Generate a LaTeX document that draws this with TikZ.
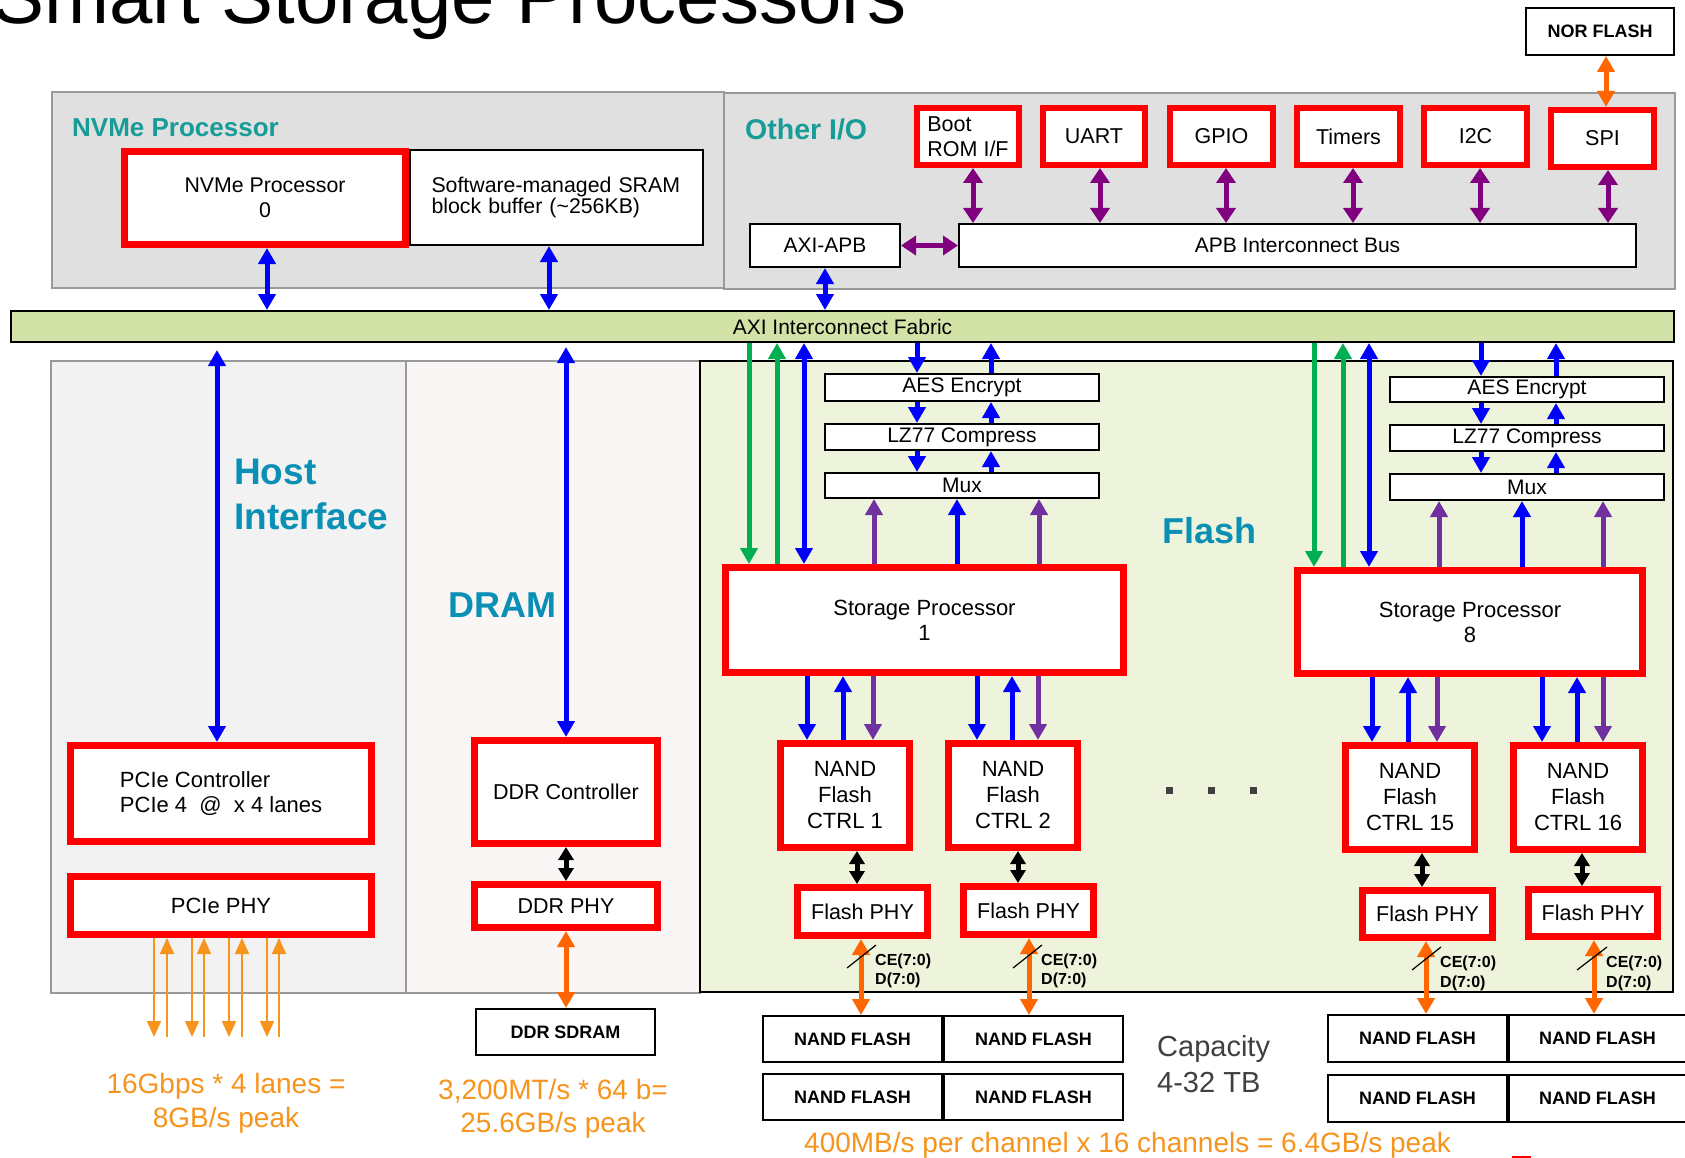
\documentclass[tikz,border=0pt]{standalone}
\usepackage{fontspec}
\setmainfont{Liberation Sans}
\usetikzlibrary{arrows.meta}
\definecolor{panelgray}{HTML}{E0E0E0}
\definecolor{hostgray}{HTML}{F2F2F2}
\definecolor{drampink}{HTML}{FBF6F6}
\definecolor{flashgreen}{HTML}{EEF3DC}
\definecolor{fabricgreen}{HTML}{D3E3A8}
\definecolor{panelborder}{HTML}{999999}
\definecolor{tealA}{HTML}{179C98}
\definecolor{tealB}{HTML}{0A90B4}
\definecolor{apbpurple}{HTML}{800080}
\definecolor{flashpurple}{HTML}{7030A0}
\definecolor{arrowgreen}{HTML}{00B050}
\definecolor{darkorange}{HTML}{FF6600}
\definecolor{lightorange}{HTML}{F7941D}
\definecolor{capgray}{HTML}{404040}
\newcommand\fsz[2]{\fontsize{#1pt}{#2pt}\selectfont}
% style, name, x1, y1, x2, y2, line width, text
\newcommand\bx[8]{\node[#1,minimum width={#5-#3-#7},minimum height={#6-#4-#7}] (#2) at ({(#3+#5)/2},{(#4+#6)/2}) {#8};}
% vertical connector: style, x, from anchor, to anchor
\newcommand\vc[4]{\draw[#1] (#2,0 |- #3) -- (#2,0 |- #4);}
\tikzset{
  redbox/.style={draw=red, line width=7pt, fill=white, inner sep=0pt, align=center, font=\fsz{21.5}{25}},
  blkbox/.style={draw=black, line width=2pt, fill=white, inner sep=0pt, align=center, font=\fsz{21}{25}},
  nandbox/.style={blkbox, font=\fsz{18}{22}\bfseries},
  bigtip/.style={line width=5pt, >={Triangle[width=17pt,length=16pt]}},
  barr/.style={bigtip, draw=blue},
  parr/.style={bigtip, draw=apbpurple, >={Triangle[width=19pt,length=15pt]}},
  farr/.style={bigtip, draw=flashpurple},
  garr/.style={bigtip, draw=arrowgreen},
  oarr/.style={bigtip, draw=darkorange},
  karr/.style={line width=5pt, draw=black, >={Triangle[width=15pt,length=13pt]}},
  lane/.style={line width=1.8pt, draw=lightorange, >={Triangle[width=14pt,length=16pt]}},
  toplbl/.style={font=\fsz{26}{30}\bfseries, text=tealA, inner sep=0pt},
  seclbl/.style={font=\fsz{36}{44}\bfseries, text=tealB, inner sep=0pt},
  orng/.style={font=\fsz{28}{32}, text=lightorange, inner sep=0pt},
  celbl/.style={font=\fsz{16}{19}\bfseries, inner sep=0pt},
  gtxt/.style={font=\fsz{29}{34}, text=capgray, inner sep=0pt},
  slash/.style={draw=black, line width=1.2pt},
}
\begin{document}
\begin{tikzpicture}[x=1pt,y=-1pt]
\useasboundingbox (0,0) rectangle (1685,1158);
\clip (0,0) rectangle (1685,1158);
\fill[white] (0,0) rectangle (1685,1158);

% ---------- title ----------
\node[anchor=base east, inner sep=0pt, font=\fsz{78}{90}] (title) at (907,24) {Smart Storage Processors};

% ---------- panels ----------
\draw[panelborder, fill=panelgray, line width=1.5pt] (52,92) rectangle (724,288);
\draw[panelborder, fill=panelgray, line width=1.5pt] (724,93) rectangle (1675,289);
\draw[panelborder, fill=hostgray, line width=1.5pt] (51,361) rectangle (406,993);
\draw[panelborder, fill=drampink, line width=1.5pt] (406,361) rectangle (700,993);
\draw[black, fill=flashgreen, line width=2pt] (700,361) rectangle (1673,992);

% ---------- labels ----------
\node[toplbl, anchor=base west] (nvmelbl) at (72,137) {NVMe Processor};
\node[toplbl, font=\fsz{28.5}{32}\bfseries, anchor=base west] (otherlbl) at (745,140) {Other I/O};
\node[seclbl, font=\fsz{37}{44}\bfseries, anchor=base west] (hostlblA) at (234,484) {Host};
\node[seclbl, font=\fsz{37}{44}\bfseries, anchor=base west] (hostlblB) at (234,529) {Interface};
\node[seclbl, anchor=base west] (dramlbl) at (448,617) {DRAM};
\node[seclbl, anchor=base west] (flashlbl) at (1162,543) {Flash};

% ---------- NVMe / other I/O ----------
\bx{blkbox,align=left,text width=250pt,font=\fsz{21.3}{19.5}}{sram}{409}{149}{704}{246}{2}{Software-managed SRAM\\block buffer (\textasciitilde256KB)}
\bx{redbox,font=\fsz{21.3}{25}}{nvme}{121}{148}{409}{248}{7}{NVMe Processor\\0}
\bx{blkbox}{axiapb}{749}{223}{901}{268}{2}{AXI-APB}
\bx{blkbox}{apb}{958}{223}{1637}{268}{2}{APB Interconnect Bus}
\bx{redbox,line width=6pt,align=left}{boot}{914}{105}{1022}{168}{6}{Boot\\ROM I/F}
\bx{redbox,line width=6pt}{uart}{1040}{105}{1148}{168}{6}{UART}
\bx{redbox,line width=6pt}{gpio}{1167}{105}{1276}{168}{6}{GPIO}
\bx{redbox,line width=6pt}{timers}{1294}{105}{1403}{168}{6}{Timers}
\bx{redbox,line width=6pt}{itwoc}{1421}{105}{1530}{168}{6}{I2C}
\bx{redbox,line width=6pt}{spi}{1548}{107}{1657}{170}{6}{SPI}
\bx{nandbox}{nor}{1525}{7}{1675}{56}{2}{NOR FLASH}
\bx{blkbox,fill=fabricgreen}{fabric}{10}{310}{1675}{343}{2}{AXI Interconnect Fabric}

% ---------- host / DRAM ----------
\bx{redbox,align=left,font=\fsz{22}{25}}{pcie}{67}{742}{375}{845}{7}{PCIe Controller\\PCIe 4\ \ @\ \ x 4 lanes}
\bx{redbox,font=\fsz{22}{25}}{pciephy}{67}{873}{375}{938}{7}{PCIe PHY}
\bx{redbox}{ddrctrl}{471}{737}{661}{847}{7}{DDR Controller}
\bx{redbox}{ddrphy}{471}{881}{661}{931}{7}{DDR PHY}
\bx{nandbox}{sdram}{475}{1008}{656}{1056}{2}{DDR SDRAM}
\coordinate (laneend) at (0,1037);

\node[orng, anchor=base] (hostrateA) at (226,1093) {16Gbps * 4 lanes =};
\node[orng, anchor=base] (hostrateB) at (226,1127) {8GB/s peak};
\node[orng, anchor=base] (dramrateA) at (553,1099) {3,200MT/s * 64 b=};
\node[orng, anchor=base] (dramrateB) at (553,1132) {25.6GB/s peak};

% ---------- flash: storage processor 1 ----------
\bx{blkbox}{aesA}{824}{373}{1100}{402}{2}{AES Encrypt}
\bx{blkbox}{lzA}{824}{423}{1100}{451}{2}{LZ77 Compress}
\bx{blkbox}{muxA}{824}{472}{1100}{499}{2}{Mux}
\bx{redbox,font=\fsz{22}{25}}{spA}{722}{564}{1127}{676}{7}{Storage Processor\\1}
\bx{redbox,font=\fsz{22}{26}}{ncA}{777}{740}{913}{851}{7}{NAND\\Flash\\CTRL 1}
\bx{redbox,font=\fsz{22}{26}}{ncB}{945}{740}{1081}{851}{7}{NAND\\Flash\\CTRL 2}
\bx{redbox}{phyA}{794}{884}{931}{939}{7}{Flash PHY}
\bx{redbox}{phyB}{960}{883}{1097}{938}{7}{Flash PHY}
\bx{nandbox}{nfAa}{762}{1015}{943}{1063}{2}{NAND FLASH}
\bx{nandbox}{nfAb}{943}{1015}{1124}{1063}{2}{NAND FLASH}
\bx{nandbox}{nfBa}{762}{1073}{943}{1121}{2}{NAND FLASH}
\bx{nandbox}{nfBb}{943}{1073}{1124}{1121}{2}{NAND FLASH}

% ---------- flash: storage processor 8 ----------
\bx{blkbox}{aesB}{1389}{376}{1665}{403}{2}{AES Encrypt}
\bx{blkbox}{lzB}{1389}{424}{1665}{452}{2}{LZ77 Compress}
\bx{blkbox}{muxB}{1389}{473}{1665}{501}{2}{Mux}
\bx{redbox,font=\fsz{22}{25}}{spB}{1294}{567}{1646}{677}{7}{Storage Processor\\8}
\bx{redbox,font=\fsz{22}{26}}{ncC}{1342}{742}{1478}{853}{7}{NAND\\Flash\\CTRL 15}
\bx{redbox,font=\fsz{22}{26}}{ncD}{1510}{742}{1646}{853}{7}{NAND\\Flash\\CTRL 16}
\bx{redbox}{phyC}{1359}{887}{1496}{941}{7}{Flash PHY}
\bx{redbox}{phyD}{1525}{886}{1661}{940}{7}{Flash PHY}
\bx{nandbox}{nfCa}{1327}{1014}{1508}{1063}{2}{NAND FLASH}
\bx{nandbox}{nfCb}{1508}{1014}{1687}{1063}{2}{NAND FLASH}
\bx{nandbox}{nfDa}{1327}{1074}{1508}{1123}{2}{NAND FLASH}
\bx{nandbox}{nfDb}{1508}{1074}{1687}{1123}{2}{NAND FLASH}

% bus width labels
\node[celbl, anchor=base west] (ceA) at (875,965) {CE(7:0)};
\node[celbl, anchor=base west] (dA) at (875,984) {D(7:0)};
\node[celbl, anchor=base west] (ceB) at (1041,965) {CE(7:0)};
\node[celbl, anchor=base west] (dB) at (1041,984) {D(7:0)};
\node[celbl, anchor=base west] (ceC) at (1440,967) {CE(7:0)};
\node[celbl, anchor=base west] (dC) at (1440,987) {D(7:0)};
\node[celbl, anchor=base west] (ceD) at (1606,967) {CE(7:0)};
\node[celbl, anchor=base west] (dD) at (1606,987) {D(7:0)};

% ellipsis dots
\fill[capgray] (1166,787) rectangle (1173,794);
\fill[capgray] (1208,787) rectangle (1215,794);
\fill[capgray] (1250,787) rectangle (1257,794);

\node[gtxt, anchor=base west] (capA) at (1157,1056) {Capacity};
\node[gtxt, anchor=base west] (capB) at (1157,1092) {4-32 TB};
\node[orng, anchor=base west] (flashrate) at (804,1152) {400MB/s per channel x 16 channels = 6.4GB/s peak};
\draw[red, line width=2pt] (1512,1157) -- (1531,1157);

% ---------- connectors: top ----------
\draw[parr,<->] (axiapb.east) -- (apb.west);
\vc{parr,<->}{973}{boot.south}{apb.north}
\vc{parr,<->}{1100}{uart.south}{apb.north}
\vc{parr,<->}{1226}{gpio.south}{apb.north}
\vc{parr,<->}{1353}{timers.south}{apb.north}
\vc{parr,<->}{1480}{itwoc.south}{apb.north}
\vc{parr,<->}{1608}{spi.south}{apb.north}
\vc{oarr,<->}{1606}{nor.south}{spi.north}
\vc{barr,<->}{267}{nvme.south}{fabric.north}
\vc{barr,<->}{549}{sram.south}{fabric.north}
\vc{barr,<->}{825}{axiapb.south}{fabric.north}

% ---------- connectors: host / DRAM ----------
\vc{barr,<->,shorten <=7pt}{217}{fabric.south}{pcie.north}
\vc{barr,<->,shorten <=4pt}{566}{fabric.south}{ddrctrl.north}
\foreach \x in {154,192,229,267} {\vc{lane,->}{\x}{pciephy.south}{laneend}}
\foreach \x in {167,204,242,279} {\vc{lane,<-}{\x}{pciephy.south}{laneend}}
\vc{karr,<->}{566}{ddrctrl.south}{ddrphy.north}
\vc{oarr,<->}{566}{ddrphy.south}{sdram.north}

% ---------- connectors: storage processor 1 ----------
\vc{garr,->}{749}{fabric.south}{spA.north}
\vc{garr,<-}{777}{fabric.south}{spA.north}
\vc{barr,<->}{804}{fabric.south}{spA.north}
\vc{barr,->}{917}{fabric.south}{aesA.north}
\vc{barr,<-}{991}{fabric.south}{aesA.north}
\vc{barr,->}{917}{aesA.south}{lzA.north}
\vc{barr,<-}{991}{aesA.south}{lzA.north}
\vc{barr,->}{917}{lzA.south}{muxA.north}
\vc{barr,<-}{991}{lzA.south}{muxA.north}
\vc{farr,->}{874}{spA.north}{muxA.south}
\vc{barr,->}{957}{spA.north}{muxA.south}
\vc{farr,->}{1039}{spA.north}{muxA.south}
\vc{barr,->}{807}{spA.south}{ncA.north}
\vc{barr,<-}{843}{spA.south}{ncA.north}
\vc{farr,->}{873}{spA.south}{ncA.north}
\vc{barr,->}{977}{spA.south}{ncB.north}
\vc{barr,<-}{1012}{spA.south}{ncB.north}
\vc{farr,->}{1038}{spA.south}{ncB.north}
\vc{karr,<->}{857}{ncA.south}{phyA.north}
\vc{karr,<->}{1018}{ncB.south}{phyB.north}
\vc{oarr,<->}{861}{phyA.south}{nfAa.north}
\vc{oarr,<->}{1029}{phyB.south}{nfAb.north}

% ---------- connectors: storage processor 8 ----------
\vc{garr,->}{1314}{fabric.south}{spB.north}
\vc{garr,<-}{1343}{fabric.south}{spB.north}
\vc{barr,<->}{1369}{fabric.south}{spB.north}
\vc{barr,->}{1481}{fabric.south}{aesB.north}
\vc{barr,<-}{1556}{fabric.south}{aesB.north}
\vc{barr,->}{1481}{aesB.south}{lzB.north}
\vc{barr,<-}{1556}{aesB.south}{lzB.north}
\vc{barr,->}{1481}{lzB.south}{muxB.north}
\vc{barr,<-}{1556}{lzB.south}{muxB.north}
\vc{farr,->}{1439}{spB.north}{muxB.south}
\vc{barr,->}{1522}{spB.north}{muxB.south}
\vc{farr,->}{1603}{spB.north}{muxB.south}
\vc{barr,->}{1372}{spB.south}{ncC.north}
\vc{barr,<-}{1408}{spB.south}{ncC.north}
\vc{farr,->}{1437}{spB.south}{ncC.north}
\vc{barr,->}{1542}{spB.south}{ncD.north}
\vc{barr,<-}{1577}{spB.south}{ncD.north}
\vc{farr,->}{1603}{spB.south}{ncD.north}
\vc{karr,<->}{1422}{ncC.south}{phyC.north}
\vc{karr,<->}{1582}{ncD.south}{phyD.north}
\vc{oarr,<->}{1426}{phyC.south}{nfCa.north}
\vc{oarr,<->}{1594}{phyD.south}{nfCb.north}

% bus slashes
\draw[slash] (847,968) -- (876,945);
\draw[slash] (1013,968) -- (1042,945);
\draw[slash] (1412,970) -- (1441,947);
\draw[slash] (1577,970) -- (1607,947);
\end{tikzpicture}
\end{document}
